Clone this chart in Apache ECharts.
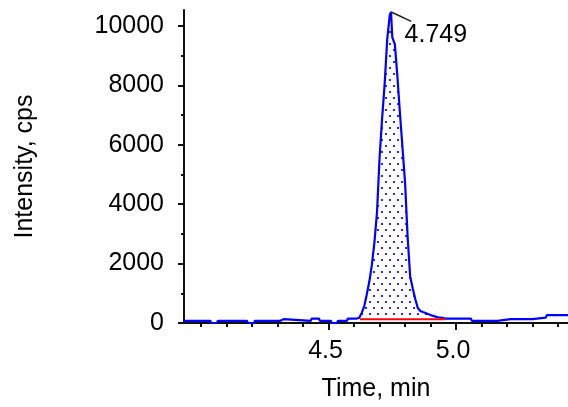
<!DOCTYPE html>
<html><head><meta charset="utf-8">
<script src="https://cdn.jsdelivr.net/npm/echarts@6/dist/echarts.min.js"></script>
<style>html,body{margin:0;padding:0;background:#fff}#c{width:568px;height:407px}</style>
</head><body><div id="c"></div>
<script>
// ---- data ----
const traceTime = [3.933,4.036,4.040,4.062,4.066,4.180,4.184,4.207,4.211,4.311,4.314,4.324,4.327,4.430,4.434,4.462,4.466,4.509,4.513,4.533,4.537,4.572,4.576,4.610,
  4.62,4.63,4.64,4.65,4.66,4.67,4.68,4.69,4.70,4.71,4.72,4.73,4.74,4.745,4.75,4.76,4.77,4.78,4.79,4.80,4.81,4.82,4.83,4.84,4.85,4.86,4.87,4.88,4.89,4.90,4.91,4.92,4.93,4.94,4.95,4.96,
  5.058,5.062,5.162,5.166,5.214,5.217,5.220,5.300,5.304,5.352,5.356,5.439];
const traceIntensity = [73,73,0,0,73,73,0,0,73,73,130,130,73,73,150,150,73,73,0,0,73,73,150,150,
  173,339,572,971,1404,1968,2733,3730,5559,6888,8052,9548,10372,10472,9614,9382,8285,7055,5891,4728,2899,1569,1170,805,505,406,372,339,306,270,240,215,195,180,165,150,
  150,73,73,130,130,73,130,130,183,183,263,263];
const yMajorTicks = [0,2000,4000,6000,8000,10000];
const yMinorTicks = [1000,3000,5000,7000,9000];
const xMajorTicks = [4.5,5.0];
const xMinorTicks = [4.0,4.1,4.2,4.3,4.4,4.6,4.7,4.8,4.9,5.1,5.2,5.3,5.4];
const xRange = [3.933, 5.439];
const yRange = [0, 10539];
const baselineTime = [4.623, 4.959];
const baselineLevel = [130, 130];
const peakTime = 4.745, peakIntensity = 10472, peakLabel = '4.749';
const leaderTime = [4.745, 4.769, 4.824];
const leaderIntensity = [10472, 10378, 10156];
const xName = 'Time, min', yName = 'Intensity, cps';

// ---- build ----
const font = "'Liberation Sans', Arial, sans-serif";
const trace = traceTime.map((t,i)=>[t, traceIntensity[i]]);
function interp(t){
  for(let i=0;i<traceTime.length-1;i++){
    if(t>=traceTime[i] && t<=traceTime[i+1]){
      const f=(t-traceTime[i])/(traceTime[i+1]-traceTime[i]);
      return traceIntensity[i]+f*(traceIntensity[i+1]-traceIntensity[i]);
    }
  }
  return 0;
}
const fillTimes = [baselineTime[0]].concat(traceTime.filter(t=>t>baselineTime[0] && t<baselineTime[1])).concat([baselineTime[1]]);
const fillTop = fillTimes.map(t=>[t, Math.max(interp(t), baselineLevel[0])]);

const tile = document.createElement('canvas');
tile.width = 8; tile.height = 12;
const g = tile.getContext('2d');
g.fillStyle = '#fff'; g.fillRect(0,0,8,12);
g.fillStyle = '#2a2aff';
g.fillRect(1,1,2,2); g.fillRect(5,7,2,2);

const axisColor = '#111';
const chart = echarts.init(document.getElementById('c'), null, {renderer:'canvas'});
chart.setOption({
  animation:false,
  backgroundColor:'#fff',
  grid:{left:184, right:0, top:10, bottom:80},
  xAxis:[{
    type:'value', min:xRange[0], max:xRange[1], offset:2,
    name:xName, nameLocation:'middle', nameGap:52,
    nameTextStyle:{fontFamily:font, fontSize:25, color:'#000'},
    axisLine:{show:true, lineStyle:{color:axisColor, width:2}},
    axisTick:{show:true, customValues:xMajorTicks, length:7, lineStyle:{color:axisColor, width:2}},
    axisLabel:{show:true, customValues:xMajorTicks, formatter:v=>v.toFixed(1), margin:14,
      fontFamily:font, fontSize:25, color:'#000', padding:[0,6,0,0]},
    splitLine:{show:false}
  },{
    type:'value', min:xRange[0], max:xRange[1], offset:2, position:'bottom',
    axisLine:{show:false},
    axisTick:{show:true, customValues:xMinorTicks, length:4, lineStyle:{color:axisColor, width:2}},
    axisLabel:{show:false}, splitLine:{show:false}
  }],
  yAxis:[{
    type:'value', min:yRange[0], max:yRange[1],
    name:yName, nameLocation:'middle', nameGap:146,
    nameTextStyle:{fontFamily:font, fontSize:25, color:'#000'},
    axisLine:{show:true, lineStyle:{color:axisColor, width:2}},
    axisTick:{show:true, customValues:yMajorTicks, length:6, lineStyle:{color:axisColor, width:2}},
    axisLabel:{show:true, customValues:yMajorTicks, formatter:v=>String(v), margin:20, fontFamily:font, fontSize:25, color:'#000'},
    splitLine:{show:false}
  },{
    type:'value', min:yRange[0], max:yRange[1], position:'left',
    axisLine:{show:false},
    axisTick:{show:true, customValues:yMinorTicks, length:3, lineStyle:{color:axisColor, width:2}},
    axisLabel:{show:false}, splitLine:{show:false}
  }],
  series:[
    {type:'custom', data:fillTop, silent:true, z:1, clip:true,
      renderItem:function(params, api){
        if(params.dataIndex!==0) return null;
        const pts = fillTop.map(p=>api.coord(p));
        const base = [api.coord([baselineTime[1], baselineLevel[1]]), api.coord([baselineTime[0], baselineLevel[0]])];
        return {type:'polygon', shape:{points:pts.concat(base)},
          style:{fill:{image:tile, repeat:'repeat'}, stroke:null}};
      }},
    {type:'line', data:trace, showSymbol:false, lineStyle:{color:'#0000ff', width:2.2}, silent:true, z:3},
    {type:'line', data:baselineTime.map((t,i)=>[t, baselineLevel[i]]), showSymbol:false,
      lineStyle:{color:'#ff0000', width:2}, silent:true, z:4},
    {type:'line', data:leaderTime.map((t,i)=>[t, leaderIntensity[i]]), showSymbol:false,
      lineStyle:{color:'#222', width:1.5}, silent:true, z:5},
    {type:'scatter', data:[[peakTime, peakIntensity]], symbol:'circle', symbolSize:1,
      itemStyle:{color:'rgba(0,0,0,0)', opacity:1}, silent:true, z:6,
      label:{show:true, formatter:peakLabel, position:[14,11], align:'left', verticalAlign:'top',
        fontFamily:font, fontSize:25, color:'#000', opacity:1}}
  ]
});
</script></body></html>
